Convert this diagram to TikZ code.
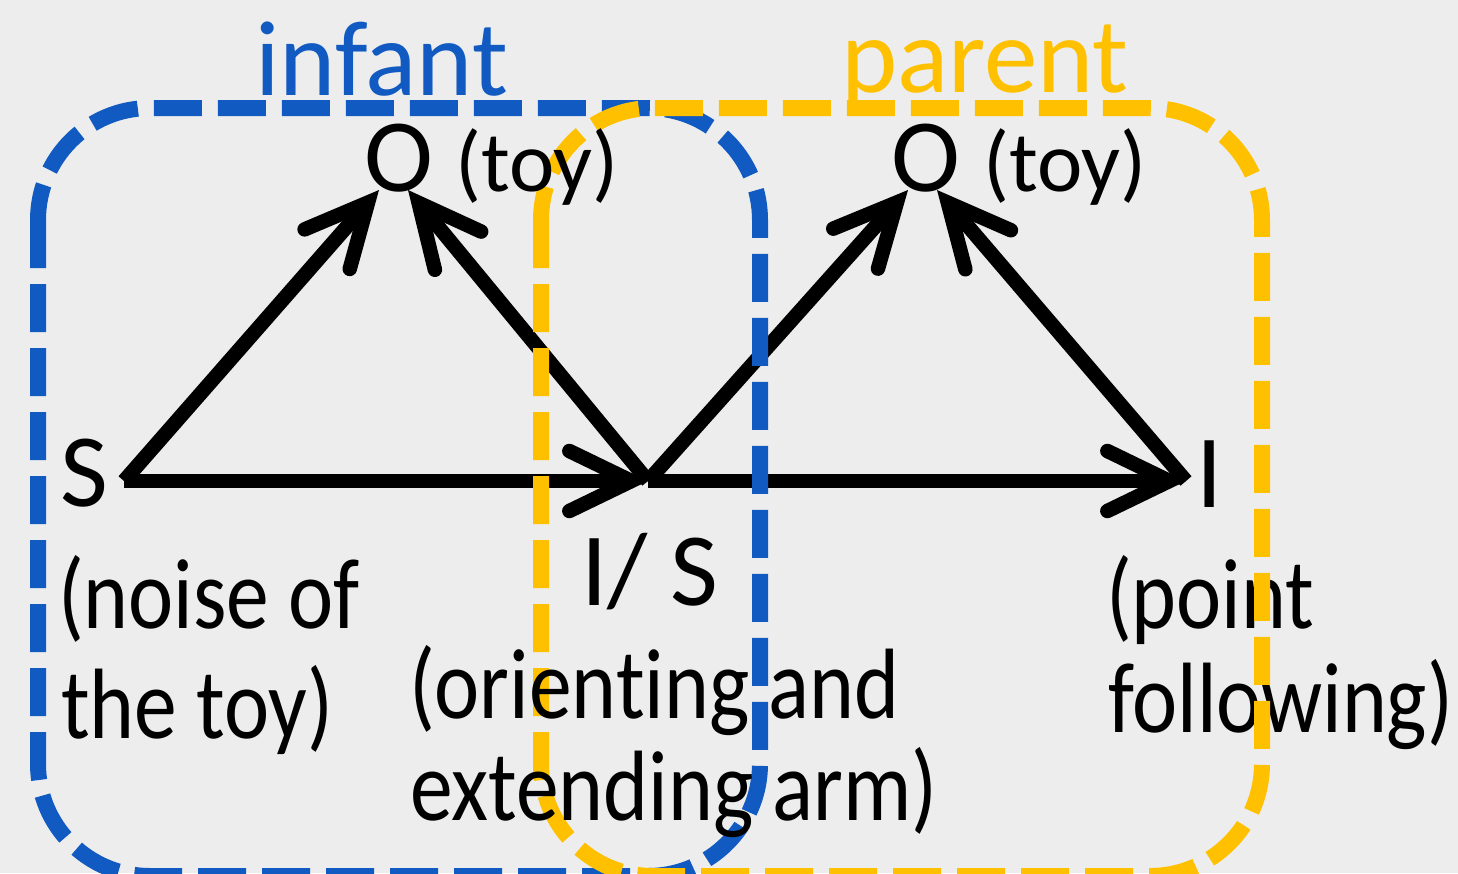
\documentclass[tikz,border=0pt]{standalone}
\usepackage{fontspec}
\setmainfont{Carlito}[Ligatures=NoCommon]
\newfontfamily\bodyfont{Carlito}[Ligatures=NoCommon, FakeStretch=0.855]
\usetikzlibrary{arrows.meta}
\definecolor{bgc}{RGB}{237,237,237}
\definecolor{boxblue}{RGB}{16,90,194}
\definecolor{boxgold}{RGB}{255,192,0}
\tikzset{
  txt/.style={anchor=base west, inner sep=0pt, outer sep=0pt},
  big/.style={txt, font=\fontsize{104}{120}\selectfont},
  label/.style={txt, font=\fontsize{107}{120}\selectfont},
  small/.style={txt, font=\fontsize{86}{100}\selectfont},
  body/.style={txt, font=\bodyfont\fontsize{100}{120}\selectfont},
  conn/.style={line width=14.5pt, -{Straight Barb[length=62pt, width=60pt, line cap=round, line join=miter]}},
  grp/.style={line width=16pt, dash pattern=on 48pt off 16pt, rounded corners=112pt},
}
\begin{document}
\begin{tikzpicture}[x=1pt, y=-1pt]
\useasboundingbox (0,0) rectangle (1458,873);
\fill[bgc] (0,0) rectangle (1458,873);

% hub points
\coordinate (hS) at (124,481);
\coordinate (hIS) at (648,481);
\coordinate (hI) at (1186,481);
\coordinate (tOaL) at (379,190);
\coordinate (tOaR) at (408,190);
\coordinate (tObL) at (908,190);
\coordinate (tObR) at (937,190);

% connectors
\draw[conn] (hS) -- (tOaL);
\draw[conn] (hIS) -- (tOaR);
\draw[conn] (hS) -- (hIS);
\draw[conn] (hIS) -- (tObL);
\draw[conn] (hI) -- (tObR);
\draw[conn] (hIS) -- (hI);

% texts under boxes
\node[body] (pt1) at (1106,628) {(point};
\node[body] (pt2) at (1108,732) {following)};

% group boxes
\draw[grp, boxblue] (38,108) rectangle (760,876);
\draw[grp, boxgold] (541,108) rectangle (1262,876);

\node[label, text=boxblue] (infant) at (255,95) {infant};
\node[label, text=boxgold] (parent) at (841,92) {parent};

\node[big] (S) at (60,506) {S};
\node[body] (ns1) at (58,628) {(noise of};
\node[body] (ns2) at (61,738) {the toy)};

\node[big] (Oa) at (364,191) {O};
\node[small] (toya) at (455,191) {(toy)};
\node[big] (Ob) at (891,191) {O};
\node[small] (toyb) at (983,191) {(toy)};

\node[big] (IS) at (581,605) {I/ S};
\node[body] (or1) at (409,718) {(orienting and};
\node[body] (or2) at (410,820) {extending arm)};

\node[big] (I) at (1196,507) {I};
\end{tikzpicture}
\end{document}
